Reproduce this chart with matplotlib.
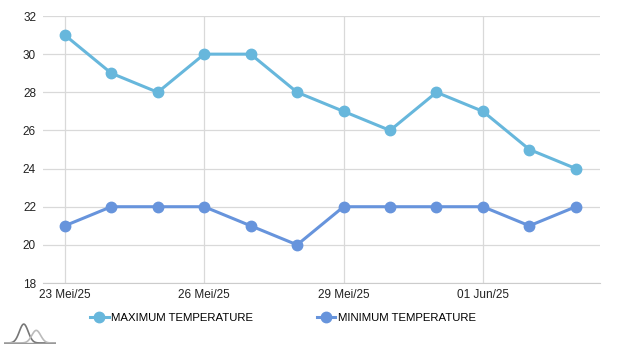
import numpy as np
import matplotlib
matplotlib.use("Agg")
from matplotlib import pyplot as plt

plt.rcParams['font.family'] = ['Liberation Sans', 'DejaVu Sans']

dates = ['23 Mei/25', '24 Mei/25', '25 Mei/25', '26 Mei/25', '27 Mei/25', '28 Mei/25',
         '29 Mei/25', '30 Mei/25', '31 Mei/25', '01 Jun/25', '02 Jun/25', '03 Jun/25']
max_temp = [31, 29, 28, 30, 30, 28, 27, 26, 28, 27, 25, 24]
min_temp = [21, 22, 22, 22, 21, 20, 22, 22, 22, 22, 21, 22]

max_color = '#67b7dc'
min_color = '#6794dc'

fig = plt.figure(figsize=(6.2, 3.48), dpi=100)
ax = fig.add_axes([43 / 620, 65 / 348, 557 / 620, 267 / 348])

x = np.arange(len(dates))
ax.plot(x, max_temp, color=max_color, lw=2.2, marker='o', ms=7.5,
        label='MAXIMUM TEMPERATURE', zorder=3)
ax.plot(x, min_temp, color=min_color, lw=2.2, marker='o', ms=7.5,
        label='MINIMUM TEMPERATURE', zorder=3)

ax.set_xlim(-0.47, 11.52)
ax.set_ylim(18, 32)
ax.set_yticks(range(18, 33, 2))
ax.set_xticks(x[::3])
ax.set_xticklabels(dates[::3])

ax.grid(True, color='#d9d9d9', lw=0.9)
ax.set_axisbelow(True)
for side in ['left', 'right', 'top']:
    ax.spines[side].set_visible(False)
ax.spines['bottom'].set_color('#cccccc')
ax.tick_params(length=0, labelsize=8.5, colors='#222222')
ax.tick_params(axis='y', pad=5)
ax.tick_params(axis='x', pad=4)

fig.legend(loc='center', bbox_to_anchor=(0.457, 30 / 348), ncol=2,
           frameon=False, fontsize=8.2, columnspacing=5.6, handlelength=1.6,
           handletextpad=0.25)

# small logo in the lower-left corner
logo = fig.add_axes([4 / 620, 4 / 348, 52 / 620, 22 / 348])
t = np.linspace(0, 1, 100)
logo.plot(t, 0.9 * np.exp(-((t - 0.38) / 0.12) ** 2), color='#777777', lw=1.2)
logo.plot(t, 0.6 * np.exp(-((t - 0.62) / 0.12) ** 2), color='#bbbbbb', lw=1.2)
logo.plot([0, 1], [0, 0], color='#999999', lw=1.0)
logo.set_xlim(0, 1)
logo.set_ylim(-0.05, 1)
logo.axis('off')

fig.savefig('out.png', dpi=100)
